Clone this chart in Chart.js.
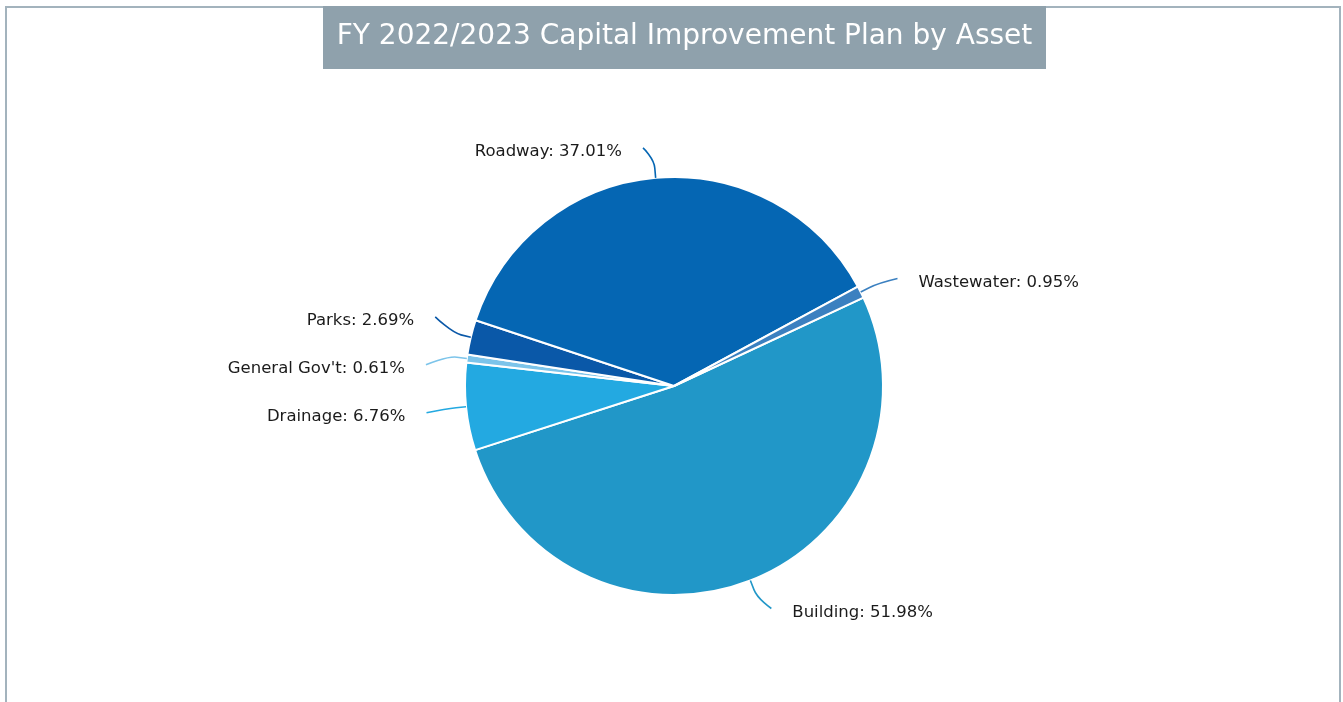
<!DOCTYPE html>
<html lang="en">
  <head>
    <meta charset="UTF-8" />
    <title>FY 2022/2023 Capital Improvement Plan by Asset</title>
    <style>
      html,
      body {
        margin: 0;
        padding: 0;
        background: #ffffff;
        overflow: hidden;
      }
      .wrap {
        position: relative;
        width: 1343px;
        height: 702px;
      }
    </style>
    <script src="https://cdn.jsdelivr.net/npm/chart.js"></script>
  </head>
  <body>
    <div class="wrap">
      <canvas id="cipChart" width="1343" height="702"></canvas>
    </div>
    <script>
      const titleText = "FY 2022/2023 Capital Improvement Plan by Asset";
      const assets = ["Building", "Drainage", "General Gov't", "Parks", "Roadway", "Wastewater"];
      const shares = [51.98, 6.76, 0.61, 2.69, 37.01, 0.95];
      const sliceColors = ["#2197c8", "#23a9e1", "#7cc4ea", "#0a58a8", "#0566b3", "#3b80c0"];

      const FONT = "'DejaVu Sans', Verdana, sans-serif";

      // frame + title box behind the pie
      const frameAndTitle = {
        id: "frameAndTitle",
        beforeDraw(chart) {
          const ctx = chart.ctx;
          ctx.save();
          ctx.strokeStyle = "#a3b3bd";
          ctx.lineWidth = 2;
          ctx.strokeRect(6, 7, 1334, 720);

          ctx.fillStyle = "#8fa1ac";
          ctx.fillRect(323, 6, 723, 63);
          ctx.fillStyle = "#ffffff";
          ctx.font = "28px " + FONT;
          ctx.textAlign = "center";
          ctx.textBaseline = "alphabetic";
          ctx.fillText(titleText, 684.5, 44);
          ctx.restore();
        },
      };

      // outside labels with soft connectors
      const outsideLabels = {
        id: "outsideLabels",
        afterDatasetsDraw(chart) {
          const ctx = chart.ctx;
          const meta = chart.getDatasetMeta(0);
          const total = shares.reduce((a, b) => a + b, 0);
          const dist = 30;
          const items = meta.data.map((arc, i) => {
            const mid = (arc.startAngle + arc.endAngle) / 2;
            const r = arc.outerRadius;
            const R = r + dist;
            return {
              i,
              mid,
              cx: arc.x,
              cy: arc.y,
              r,
              R,
              right: Math.cos(mid) >= 0,
              y: arc.y + Math.sin(mid) * R,
            };
          });

          // spread labels on each side so they don't overlap
          const minGap = 48;
          [true, false].forEach((side) => {
            const group = items.filter((it) => it.right === side).sort((a, b) => a.y - b.y);
            for (let pass = 0; pass < 50; pass++) {
              for (let k = 1; k < group.length; k++) {
                const gap = group[k].y - group[k - 1].y;
                if (gap < minGap) {
                  const push = (minGap - gap) / 2;
                  group[k - 1].y -= push;
                  group[k].y += push;
                }
              }
            }
          });

          ctx.save();
          ctx.font = "16.5px " + FONT;
          ctx.textBaseline = "middle";
          items.forEach((it) => {
            const sign = it.right ? 1 : -1;
            const dy = it.y - it.cy;
            const endX = it.cx + sign * (Math.sqrt(Math.max(it.R * it.R - dy * dy, 0)) + 10);
            const endY = it.y;
            const edgeX = it.cx + Math.cos(it.mid) * it.r;
            const edgeY = it.cy + Math.sin(it.mid) * it.r;
            const brkX = it.cx + Math.cos(it.mid) * (it.r + 10);
            const brkY = it.cy + Math.sin(it.mid) * (it.r + 10);

            ctx.strokeStyle = sliceColors[it.i];
            ctx.lineWidth = 1.6;
            ctx.beginPath();
            ctx.moveTo(endX, endY);
            ctx.bezierCurveTo(endX, endY, 2 * brkX - edgeX, 2 * brkY - edgeY, brkX, brkY);
            ctx.lineTo(edgeX, edgeY);
            ctx.stroke();

            const pct = ((shares[it.i] / total) * 100).toFixed(2);
            ctx.fillStyle = "#1b1b1b";
            ctx.textAlign = it.right ? "left" : "right";
            ctx.fillText(assets[it.i] + ": " + pct + "%", endX + sign * 21, endY + 4);
          });
          ctx.restore();
        },
      };

      const cipChart = new Chart(document.getElementById("cipChart"), {
        type: "pie",
        data: {
          labels: assets,
          datasets: [
            {
              data: shares,
              backgroundColor: sliceColors,
              borderColor: "#ffffff",
              borderWidth: 2,
              radius: 209,
            },
          ],
        },
        options: {
          responsive: false,
          animation: false,
          rotation: 65,
          layout: {
            padding: { left: 5, right: 0, top: 70, bottom: 0 },
          },
          plugins: {
            legend: { display: false },
            title: { display: false },
            tooltip: { enabled: false },
          },
        },
        plugins: [frameAndTitle, outsideLabels],
      });
    </script>
  </body>
</html>
